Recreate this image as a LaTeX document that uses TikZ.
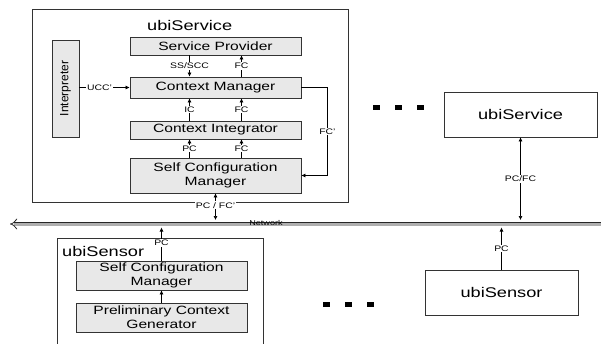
\documentclass[tikz,border=0pt]{standalone}
\usepackage{fontspec}
\setmainfont[FakeStretch=1.3]{Liberation Sans}
\newfontfamily\uprightfont{Liberation Sans}
\usepackage{tikz}
\usetikzlibrary{arrows.meta}
\definecolor{boxgray}{RGB}{232,232,232}
\definecolor{netgray}{RGB}{175,175,175}

\tikzset{
  part/.style={draw=black!80, fill=boxgray, line width=0.7pt, align=center, inner sep=0pt,
    minimum width=171pt, font=\fontsize{12}{14}\selectfont},
  host/.style={draw=black!80, line width=0.7pt, inner sep=0pt, minimum width=153pt,
    minimum height=45pt, font=\fontsize{14}{16}\selectfont},
  flow/.style={line width=0.6pt, -{Latex[length=4pt,width=4pt]}},
  flows/.style={line width=0.6pt, {Latex[length=4pt,width=4pt]}-{Latex[length=4pt,width=4pt]}},
  tag/.style={fill=white, inner sep=1pt, font=\fontsize{8}{9}\selectfont},
}

\begin{document}
\begin{tikzpicture}[x=1pt,y=-1pt]
  \useasboundingbox (0,0) rectangle (601,343);
  % ubiService (detailed)
  \draw [black!80, line width=0.7pt] (32,9) rectangle (348,202);
  \node [anchor=west, inner sep=0pt, font=\fontsize{14}{16}\selectfont] (svctitle) at (147,25) {ubiService};
  \node [part, minimum height=18pt] (sp) at (215.5,46) {Service Provider};
  \node [part, minimum height=21pt] (cm) at (215.5,87.5) {Context Manager};
  \node [part, minimum height=18pt] (ci) at (215.5,130) {Context Integrator};
  \node [part, minimum height=35pt] (scm) at (215.5,175.5) {Self Configuration\\Manager};
  \node [part, minimum width=27pt, minimum height=97pt, font=\uprightfont\fontsize{12}{13}\selectfont] (interp) at (65.5,88.5) {\rotatebox{90}{Interpreter}};

  \draw [flow] ([xshift=-26pt]sp.south) -- ([xshift=-26pt]cm.north) node [tag, midway] {SS/SCC};
  \draw [flow] ([xshift=26pt]cm.north) -- ([xshift=26pt]sp.south) node [tag, midway] {FC};
  \draw [flow] ([xshift=-26pt]ci.north) -- ([xshift=-26pt]cm.south) node [tag, midway] {IC};
  \draw [flow] ([xshift=26pt]ci.north) -- ([xshift=26pt]cm.south) node [tag, midway] {FC};
  \draw [flow] ([xshift=-26pt]scm.north) -- ([xshift=-26pt]ci.south) node [tag, midway] {PC};
  \draw [flow] ([xshift=26pt]scm.north) -- ([xshift=26pt]ci.south) node [tag, midway] {FC};
  \draw [flow] (interp.east |- cm.west) -- (cm.west) node [tag, pos=0.4] {UCC'};
  \draw [flow] (cm.east) -- ++(26,0) |- (scm.east) node [tag, pos=0.25] {FC'};

  % network
  \coordinate (netL) at (10,224);
  \coordinate (netR) at (606,224);
  \draw [black!85, line width=0.8pt, double=netgray, double distance=3pt, -{Implies}] (netR) -- (netL);
  \node [inner sep=0pt, font=\fontsize{7}{7}\selectfont] (netlabel) at (266,223) {Network};
  \coordinate (netA) at (215.5,220);
  \coordinate (netB) at (161.5,227.5);
  \coordinate (netC) at (520.5,220);
  \coordinate (netD) at (501.5,227.5);
  \draw [flows] (scm.south) -- (netA) node [tag, pos=0.45] {PC / FC'};

  % ubiSensor (detailed)
  \draw [black!80, line width=0.7pt] (57,350) -- (57,238) -- (263,238) -- (263,350);
  \node [anchor=west, inner sep=0pt, font=\fontsize{14}{16}\selectfont] (sentitle) at (62,251) {ubiSensor};
  \node [part, minimum height=29pt] (scm2) at (161.5,275.5) {Self Configuration\\Manager};
  \node [part, minimum height=29pt] (pcg) at (161.5,317.5) {Preliminary Context\\Generator};
  \draw [flow] (pcg.north) -- (scm2.south);
  \draw [flow] (scm2.north) -- (netB) node [tag, pos=0.54] {PC};

  % other hosts
  \node [host] (svc2) at (520.5,114.5) {ubiService};
  \node [host] (sen2) at (501.5,292.5) {ubiSensor};
  \draw [flows] (svc2.south) -- (netC) node [tag, midway] {PC/FC};
  \draw [flow] (sen2.north) -- (netD) node [tag, midway] {PC};

  \foreach \x in {376.5,398,420.5} \fill (\x-3.5,105) rectangle ++(7,5);
  \foreach \x in {326.5,348.5,370.5} \fill (\x-3.5,302) rectangle ++(7,5);
\end{tikzpicture}
\end{document}
